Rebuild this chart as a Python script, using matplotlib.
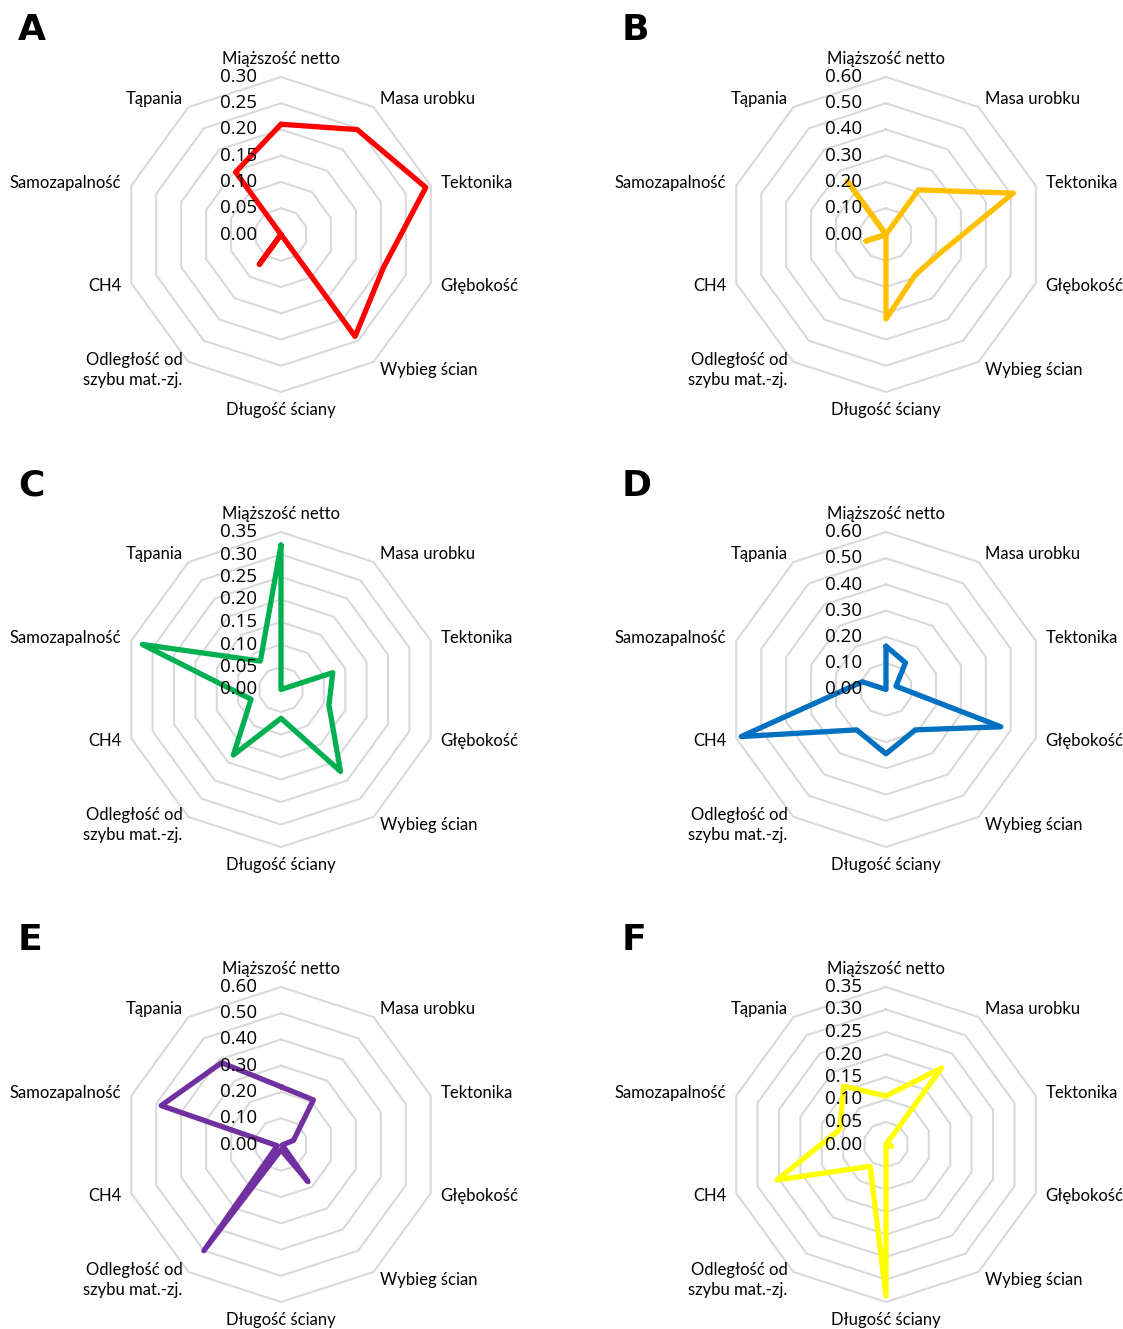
import numpy as np
import matplotlib
matplotlib.use("Agg")
import matplotlib.pyplot as plt
from matplotlib.transforms import offset_copy

# Criteria, clockwise from the top
categories = [
    "Miąższość netto", "Masa urobku", "Tektonika", "Głębokość", "Wybieg ścian",
    "Długość ściany", "Odległość od\nszybu mat.-zj.", "CH4", "Samozapalność", "Tąpania",
]

# Weights of the criteria for each group
values_a = [0.21, 0.247, 0.29, 0.205, 0.24, 0.0, 0.07, 0.0, 0.0, 0.147]
values_b = [0.0, 0.21, 0.51, 0.22, 0.19, 0.322, 0.0, 0.08, 0.0, 0.25]
values_c = [0.321, 0.0, 0.121, 0.112, 0.225, 0.064, 0.18, 0.07, 0.324, 0.078]
values_d = [0.165, 0.126, 0.04, 0.46, 0.19, 0.245, 0.19, 0.58, 0.095, 0.0]
values_e = [0.22, 0.21, 0.05, 0.005, 0.175, 0.02, 0.50, 0.015, 0.48, 0.385]
values_f = [0.108, 0.21, 0.0, 0.012, 0.0, 0.337, 0.06, 0.255, 0.108, 0.16]

# Radial tick values for each panel
ticks_a = [0.00, 0.05, 0.10, 0.15, 0.20, 0.25, 0.30]
ticks_b = [0.00, 0.10, 0.20, 0.30, 0.40, 0.50, 0.60]
ticks_c = [0.00, 0.05, 0.10, 0.15, 0.20, 0.25, 0.30, 0.35]
ticks_d = [0.00, 0.10, 0.20, 0.30, 0.40, 0.50, 0.60]
ticks_e = [0.00, 0.10, 0.20, 0.30, 0.40, 0.50, 0.60]
ticks_f = [0.00, 0.05, 0.10, 0.15, 0.20, 0.25, 0.30, 0.35]

panel_letters = ["A", "B", "C", "D", "E", "F"]
colors = ["#FF0000", "#FFC000", "#00B050", "#0070C0", "#7030A0", "#FFFF00"]

panels = list(zip(panel_letters,
                  [values_a, values_b, values_c, values_d, values_e, values_f],
                  [ticks_a, ticks_b, ticks_c, ticks_d, ticks_e, ticks_f],
                  colors))

W, H = 1123, 1329
fig = plt.figure(figsize=(W / 100, H / 100), dpi=100)
fig.patch.set_facecolor("white")

label_font = "Lato"
tick_font = "Open Sans"

R = 157.5                      # outer ring radius in pixels
col_x = [281, 886]
row_y = [234.5, 689.5, 1144.5]

n = len(categories)
theta = np.linspace(0, 2 * np.pi, n, endpoint=False)
theta_closed = np.append(theta, theta[0])

for idx, (letter, vals, ticks, color) in enumerate(panels):
    cx = col_x[idx % 2]
    cy = row_y[idx // 2]
    rect = [(cx - R) / W, (H - cy - R) / H, 2 * R / W, 2 * R / H]
    ax = fig.add_axes(rect, projection="polar")
    ax.set_theta_offset(np.pi / 2)
    ax.set_theta_direction(-1)
    rmax = ticks[-1]
    ax.set_ylim(0, rmax)
    ax.grid(False)
    ax.spines["polar"].set_visible(False)
    ax.set_xticks([])
    ax.set_yticks([])
    ax.patch.set_alpha(0)

    # polygonal grid rings
    for level in ticks[1:]:
        ax.plot(theta_closed, [level] * (n + 1), color="#d9d9d9", lw=1.5,
                zorder=1, clip_on=False)

    # data polygon
    v = np.append(vals, vals[0])
    ax.plot(theta_closed, v, color=color, lw=3.8, zorder=3,
            solid_joinstyle="round", solid_capstyle="round", clip_on=False)

    # radial tick labels along the top spoke
    tr = offset_copy(ax.transData, fig=fig, x=-24, y=0, units="dots")
    for level in ticks:
        ax.text(0, level, f"{level:.2f}", transform=tr, ha="right", va="center",
                fontsize=13.5, family=tick_font, color="black", zorder=5)

    # category labels
    for th, cat in zip(theta, categories):
        s = np.sin(th)
        c = np.cos(th)
        if abs(s) < 1e-6:
            ha = "center"
            va = "bottom" if c > 0 else "top"
        else:
            ha = "left" if s > 0 else "right"
            va = "center"
        ax.text(th, rmax * 1.065, cat, ha=ha, va=va, fontsize=12,
                family=label_font, color="black", linespacing=1.3)

    # panel letter
    lx = 18 if idx % 2 == 0 else 622
    ly = cy - 204
    fig.text(lx / W, 1 - ly / H, letter, fontsize=26, fontweight="bold",
             family="DejaVu Sans", ha="left", va="center")

fig.savefig("out.png", dpi=100, facecolor="white")
